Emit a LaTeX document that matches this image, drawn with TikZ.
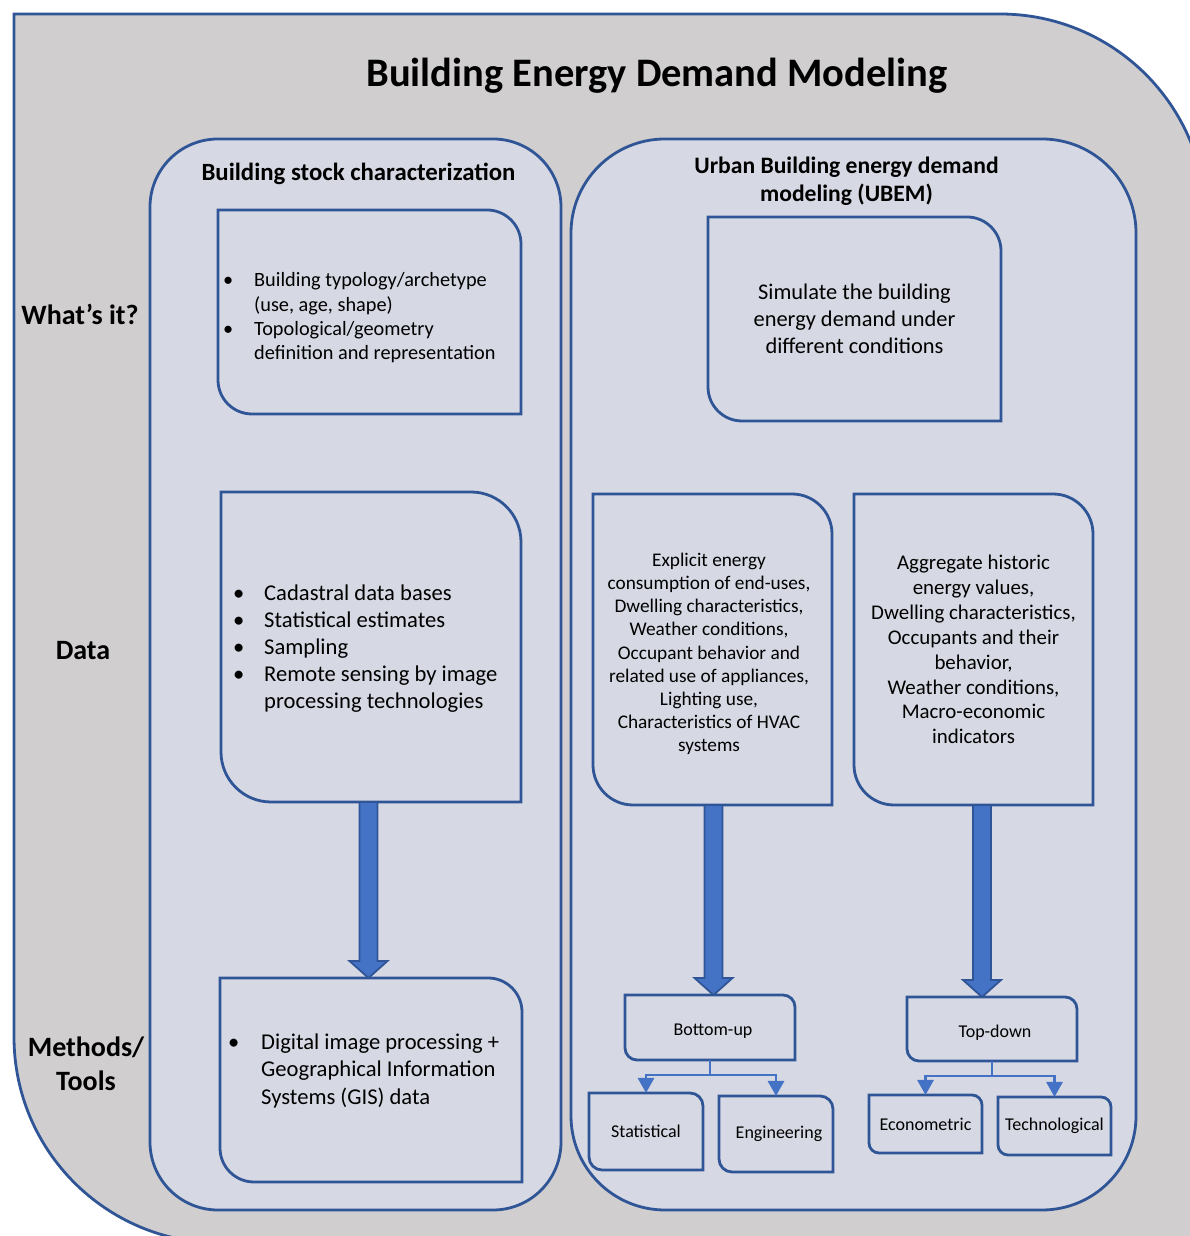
\documentclass[tikz,border=0pt]{standalone}
\usepackage{fontspec}
\setmainfont{Carlito}
\usetikzlibrary{arrows.meta,calc,backgrounds}
\definecolor{outerfill}{HTML}{D0CECE}
\definecolor{panelfill}{HTML}{D6D9E3}
\definecolor{edge}{HTML}{2F5597}
\definecolor{arrowblue}{HTML}{4472C4}
\newcommand\diagshape[2]{%
  \begin{pgfonlayer}{background}
  \draw[boxline] (#1.north west) -- ([xshift=-#2pt]#1.north east)
    arc[start angle=90,end angle=0,radius=#2pt] -- (#1.south east)
    -- ([xshift=#2pt]#1.south west)
    arc[start angle=270,end angle=180,radius=#2pt] -- cycle;
  \end{pgfonlayer}}
\newcommand\panelshape[2]{%
  \begin{pgfonlayer}{background}
  \draw[boxline,rounded corners=#2pt] (#1.north west) rectangle (#1.south east);
  \end{pgfonlayer}}
\newcommand\blockarrow[3]{%
  \draw[barrow] let \p1=([xshift=#3pt]#1), \p2=(#2) in
    (\x1-9pt,\y1) -- (\x1-9pt,\y2+17pt) -- (\x1-19pt,\y2+17pt) -- (\x1,\y2)
    -- (\x1+19pt,\y2+17pt) -- (\x1+9pt,\y2+17pt) -- (\x1+9pt,\y1) -- cycle;}
\begin{document}
\begin{tikzpicture}[x=1pt,y=1pt,
  shapebox/.style={rectangle,draw=none,inner sep=0pt,outer sep=0pt},
  boxline/.style={fill=panelfill,draw=edge,line width=2.8pt},
  outerline/.style={fill=outerfill,draw=edge,line width=2.8pt},
  barrow/.style={fill=arrowblue,draw=edge,line width=1.8pt,line join=miter},
  conn/.style={draw=arrowblue,line width=2.8pt,-{Triangle[width=16pt,length=15pt]}},
  ptitle/.style={font=\fontsize{#1}{28}\selectfont\bfseries,align=center,inner sep=0pt},
  rowlabel/.style={font=\fontsize{28}{34}\selectfont\bfseries,align=center,inner sep=0pt},
  listtext/.style={anchor=west,inner sep=0pt},
  plaintext/.style={inner sep=0pt,align=center},
  smalltext/.style={font=\fontsize{18}{21}\selectfont}
]
\useasboundingbox (0,0) rectangle (1190,1236);
\begin{pgfonlayer}{background}
\draw[outerline] (14,1222) -- (1000,1222) arc[start angle=90,end angle=0,radius=206pt]
  -- (1206,-7) -- (220,-7) arc[start angle=270,end angle=180,radius=206pt] -- cycle;
\end{pgfonlayer}

% panels
\node[shapebox,minimum width=411pt,minimum height=1071pt] (PL) at (355.5,561.5) {};
\panelshape{PL}{68}
\node[shapebox,minimum width=565pt,minimum height=1071pt] (PR) at (853.5,561.5) {};
\panelshape{PR}{94}

% titles
\node[font=\fontsize{40.5}{48}\selectfont\bfseries,inner sep=0pt] (T) at (657,1160) {Building Energy Demand Modeling};
\node[ptitle=24.8] (PLt) at (358.5,1062) {Building stock characterization};
\node[ptitle=23.6] (PRt) at (846.5,1055) {Urban Building energy demand\\modeling (UBEM)};

% row labels
\node[rowlabel] (R1) at (80,922) {What’s it?};
\node[rowlabel] (R2) at (83,585) {Data};
\node[rowlabel] (R3) at (86,172) {Methods/\\Tools};

% left column boxes
\node[shapebox,minimum width=303pt,minimum height=204pt] (W) at (369.5,924) {};
\diagshape{W}{34}
\node[listtext,font=\fontsize{20.3}{24.3}\selectfont] (Wt) at (223,917.5)
 {\begin{tabular}{@{}p{31pt}@{}l@{}}\textbullet & Building typology/archetype\\ & (use, age, shape)\\
  \textbullet & Topological/geometry\\ & definition and representation\end{tabular}};

\node[shapebox,minimum width=300pt,minimum height=310pt] (D) at (371,589) {};
\diagshape{D}{50}
\node[listtext,font=\fontsize{22.6}{27}\selectfont] (Dt) at (233,587)
 {\begin{tabular}{@{}p{31pt}@{}l@{}}\textbullet & Cadastral data bases\\ \textbullet & Statistical estimates\\
  \textbullet & Sampling\\ \textbullet & Remote sensing by image\\ & processing technologies\end{tabular}};

\node[shapebox,minimum width=302pt,minimum height=204pt] (M) at (371,156) {};
\diagshape{M}{34}
\node[listtext,font=\fontsize{22.6}{27.5}\selectfont] (Mt) at (228,164.5)
 {\begin{tabular}{@{}p{33pt}@{}l@{}}\textbullet & Digital image processing +\\ & Geographical Information\\
  & Systems (GIS) data\end{tabular}};

% right column boxes
\node[shapebox,minimum width=293pt,minimum height=204pt,align=center,font=\fontsize{22.4}{27}\selectfont] (S) at (854.5,917)
 {Simulate the building\\energy demand under\\different conditions};
\diagshape{S}{34}

\node[shapebox,minimum width=239pt,minimum height=311pt] (E) at (712.5,586.5) {};
\diagshape{E}{40}
\node[plaintext,font=\fontsize{19.3}{23.2}\selectfont] (Et) at (709,582)
 {Explicit energy\\consumption of end-uses,\\Dwelling characteristics,\\Weather conditions,\\Occupant behavior and\\related use of appliances,\\Lighting use,\\Characteristics of HVAC\\systems};

\node[shapebox,minimum width=239pt,minimum height=311pt,align=center,font=\fontsize{20.9}{24.9}\selectfont] (A) at (973.5,586.5)
 {Aggregate historic\\energy values,\\Dwelling characteristics,\\Occupants and their\\behavior,\\Weather conditions,\\Macro-economic\\indicators};
\diagshape{A}{40}

\node[shapebox,minimum width=170pt,minimum height=65pt] (BU) at (710,208.5) {};
\diagshape{BU}{12}
\node[plaintext,smalltext] (BUt) at (713,205) {Bottom-up};
\node[shapebox,minimum width=170pt,minimum height=64pt] (TD) at (992,207) {};
\diagshape{TD}{12}
\node[plaintext,smalltext] (TDt) at (995,203) {Top-down};
\node[shapebox,smalltext,minimum width=114pt,minimum height=77pt] (ST) at (646,104.5) {Statistical};
\diagshape{ST}{13}
\node[shapebox,smalltext,minimum width=114pt,minimum height=76pt] (EN) at (776,102) {\hspace*{6pt}Engineering};
\diagshape{EN}{13}
\node[shapebox,smalltext,minimum width=113pt,minimum height=58pt] (EC) at (925.5,112) {Econometric};
\diagshape{EC}{10}
\node[shapebox,smalltext,minimum width=113pt,minimum height=58pt] (TE) at (1054.5,110) {Technological};
\diagshape{TE}{10}

% block arrows
\blockarrow{D.south}{M.north}{-2.5}
\blockarrow{E.south}{BU.north}{1}
\blockarrow{A.south}{TD.north}{8.5}

% connectors
\draw[conn] (BU.south) -- ++(0,-15) -| (ST.north);
\draw[conn] (BU.south) -- ++(0,-15) -| (EN.north);
\draw[conn] (TD.south) -- ++(0,-15) -| (EC.north);
\draw[conn] (TD.south) -- ++(0,-15) -| (TE.north);
\end{tikzpicture}
\end{document}
